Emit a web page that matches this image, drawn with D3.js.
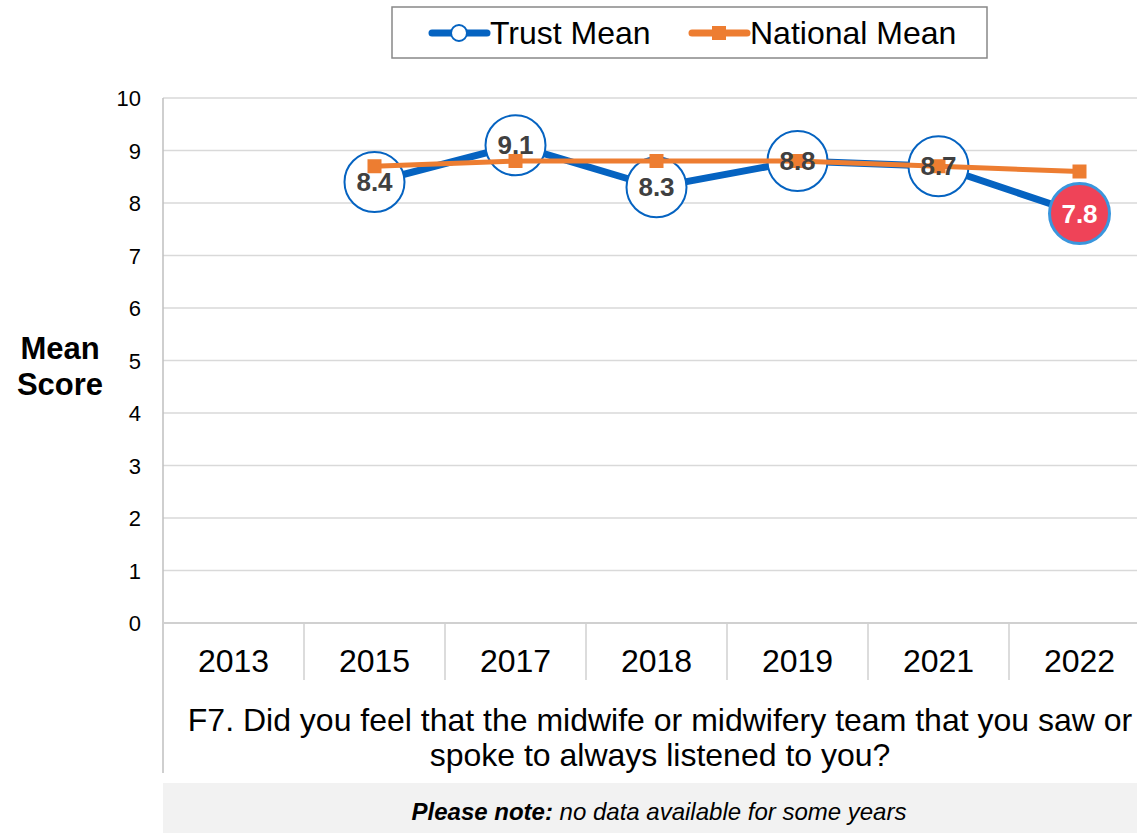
<!DOCTYPE html>
<html>
<head>
<meta charset="utf-8">
<script src="https://cdn.jsdelivr.net/npm/d3@7"></script>
<style>
  html, body { margin: 0; padding: 0; background: #fff; }
  svg { display: block; font-family: "Liberation Sans", Arial, sans-serif; }
</style>
</head>
<body>
<svg id="chart" width="1137" height="833"></svg>
<script>
// Survey years and mean scores (null = no data for that year)
const years = ["2013", "2015", "2017", "2018", "2019", "2021", "2022"];
const trustMean = [null, 8.4, 9.1, 8.3, 8.8, 8.7, 7.8];
const nationalMean = [null, 8.7, 8.8, 8.8, 8.8, 8.7, 8.6];
const yTicks = [0, 1, 2, 3, 4, 5, 6, 7, 8, 9, 10];
const highlightYear = "2022";
const questionLines = ["F7. Did you feel that the midwife or midwifery team that you saw or",
                       "spoke to always listened to you?"];

const svg = d3.select("#chart");
const plot = { left: 163, right: 1150, top: 98, bottom: 623 };

const x = d3.scaleBand().domain(years).range([plot.left, plot.right]).padding(0);
const y = d3.scaleLinear().domain([0, 10]).range([plot.bottom, plot.top]);
const cx = yr => x(yr) + x.bandwidth() / 2;

// Horizontal gridlines
svg.append("g").selectAll("line").data(yTicks.filter(t => t > 0)).join("line")
  .attr("x1", plot.left).attr("x2", plot.right)
  .attr("y1", d => y(d)).attr("y2", d => y(d))
  .attr("stroke", "#d9d9d9").attr("stroke-width", 1.5);

// Y tick labels
svg.append("g").selectAll("text").data(yTicks).join("text")
  .attr("x", 141).attr("y", d => y(d) + 8)
  .attr("text-anchor", "end").attr("font-size", 22).attr("fill", "#000")
  .text(d => d);

// Y axis title
svg.append("text").attr("x", 60).attr("y", 359).attr("text-anchor", "middle")
  .attr("font-size", 31).attr("font-weight", "bold").text("Mean");
svg.append("text").attr("x", 60).attr("y", 395).attr("text-anchor", "middle")
  .attr("font-size", 31).attr("font-weight", "bold").text("Score");

// Left axis line, extending down past the question text
svg.append("line").attr("x1", plot.left).attr("x2", plot.left)
  .attr("y1", plot.top).attr("y2", 773)
  .attr("stroke", "#bfbfbf").attr("stroke-width", 1.5);

// Baseline
svg.append("line").attr("x1", plot.left).attr("x2", plot.right)
  .attr("y1", y(0)).attr("y2", y(0))
  .attr("stroke", "#d0d0d0").attr("stroke-width", 2);

// Category separators
svg.append("g").selectAll("line").data(years.slice(1)).join("line")
  .attr("x1", d => x(d)).attr("x2", d => x(d))
  .attr("y1", y(0)).attr("y2", 680)
  .attr("stroke", "#d0d0d0").attr("stroke-width", 1.5);

// X tick labels
svg.append("g").selectAll("text").data(years).join("text")
  .attr("x", d => cx(d)).attr("y", 672)
  .attr("text-anchor", "middle").attr("font-size", 32).text(d => d);

// Question text
svg.append("g").selectAll("text").data(questionLines).join("text")
  .attr("x", 660).attr("y", (d, i) => 731 + i * 35)
  .attr("text-anchor", "middle").attr("font-size", 32).text(d => d);

// Note box
svg.append("rect").attr("x", plot.left).attr("y", 783).attr("width", 1137 - plot.left).attr("height", 50)
  .attr("fill", "#f2f2f2");
const note = svg.append("text").attr("x", 659).attr("y", 820).attr("text-anchor", "middle")
  .attr("font-size", 24).attr("font-style", "italic");
note.append("tspan").attr("font-weight", "bold").text("Please note:");
note.append("tspan").text(" no data available for some years");

// Series data points
const trustPts = years.map((yr, i) => ({ yr, v: trustMean[i] })).filter(d => d.v !== null);
const natPts = years.map((yr, i) => ({ yr, v: nationalMean[i] })).filter(d => d.v !== null);
const line = d3.line().x(d => cx(d.yr)).y(d => y(d.v));

const blue = "#0563c1";
const orange = "#ed7d31";

// Trust line
svg.append("path").datum(trustPts).attr("d", line)
  .attr("fill", "none").attr("stroke", blue).attr("stroke-width", 7);

// Trust markers
svg.append("g").selectAll("circle").data(trustPts).join("circle")
  .attr("cx", d => cx(d.yr)).attr("cy", d => y(d.v)).attr("r", 30)
  .attr("fill", d => d.yr === highlightYear ? "#ef4358" : "#fff")
  .attr("stroke", d => d.yr === highlightYear ? "#3a96dd" : blue)
  .attr("stroke-width", d => d.yr === highlightYear ? 3 : 2);

// National line and square markers
svg.append("path").datum(natPts).attr("d", line)
  .attr("fill", "none").attr("stroke", orange).attr("stroke-width", 5);
svg.append("g").selectAll("rect").data(natPts).join("rect")
  .attr("x", d => cx(d.yr) - 7).attr("y", d => y(d.v) - 7)
  .attr("width", 14).attr("height", 14).attr("fill", orange);

// Trust value labels
svg.append("g").selectAll("text").data(trustPts).join("text")
  .attr("x", d => cx(d.yr)).attr("y", d => y(d.v) + 9)
  .attr("text-anchor", "middle").attr("font-size", 26).attr("font-weight", "bold")
  .attr("fill", d => d.yr === highlightYear ? "#fff" : "#404040")
  .text(d => d.v.toFixed(1));

// Legend
const lg = svg.append("g");
lg.append("rect").attr("x", 392).attr("y", 7).attr("width", 595).attr("height", 51)
  .attr("fill", "#fff").attr("stroke", "#888").attr("stroke-width", 1.5);
lg.append("line").attr("x1", 432).attr("x2", 487).attr("y1", 33).attr("y2", 33)
  .attr("stroke", blue).attr("stroke-width", 7).attr("stroke-linecap", "round");
lg.append("circle").attr("cx", 459).attr("cy", 33).attr("r", 8)
  .attr("fill", "#fff").attr("stroke", blue).attr("stroke-width", 2);
lg.append("text").attr("x", 490).attr("y", 44).attr("font-size", 32).text("Trust Mean");
lg.append("line").attr("x1", 692).attr("x2", 747).attr("y1", 33).attr("y2", 33)
  .attr("stroke", orange).attr("stroke-width", 7).attr("stroke-linecap", "round");
lg.append("rect").attr("x", 712).attr("y", 26).attr("width", 14).attr("height", 14).attr("fill", orange);
lg.append("text").attr("x", 750).attr("y", 44).attr("font-size", 32).text("National Mean");
</script>
</body>
</html>
